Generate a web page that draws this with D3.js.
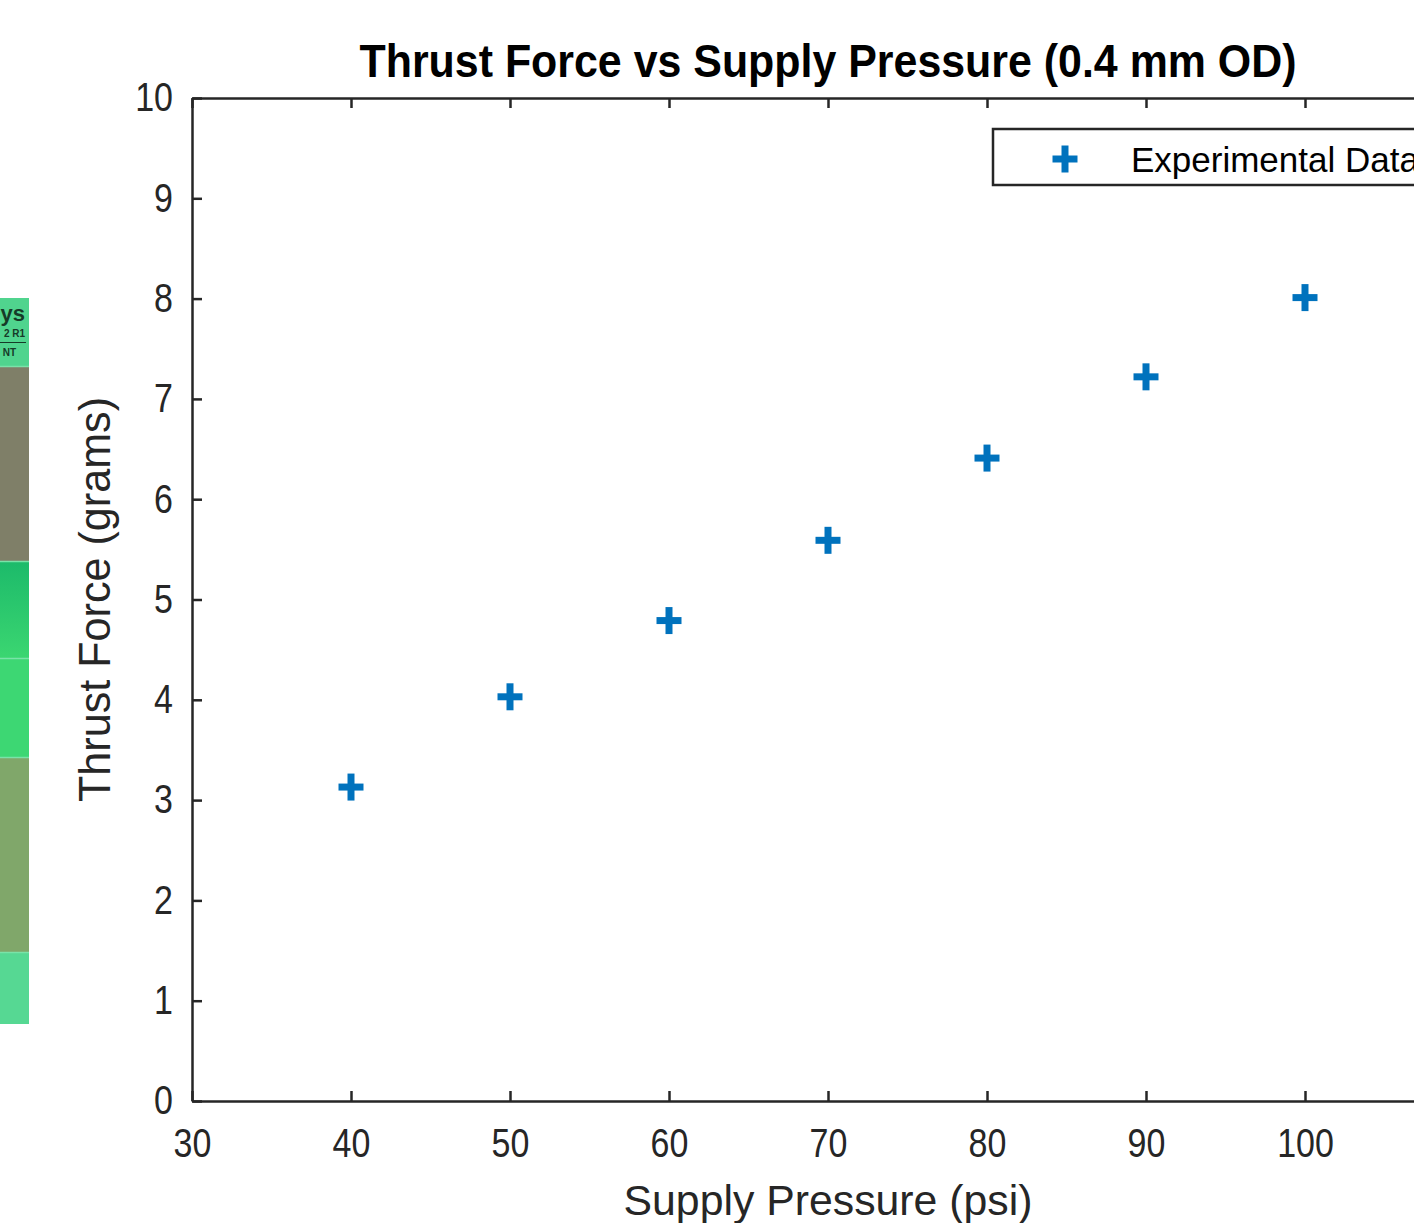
<html>
  <head>
    <meta charset="utf-8">
    <title>Thrust Force vs Supply Pressure</title>
    <style>
      body { margin: 0; background: #fff; }
      svg { display: block; font-family: "Liberation Sans", Arial, sans-serif; }
    </style>
  </head>
  <body>
    <div id="vis"></div>
    <script src="https://d3js.org/d3.v7.min.js"></script>
    <script>
      // data
      const pressure = [40, 50, 60, 70, 80, 90, 100]
      const thrust = [3.13, 4.03, 4.79, 5.59, 6.41, 7.22, 8.01]
      const xTicks = [30, 40, 50, 60, 70, 80, 90, 100]
      const yTicks = [0, 1, 2, 3, 4, 5, 6, 7, 8, 9, 10]
      const titleText = 'Thrust Force vs Supply Pressure (0.4 mm OD)'
      const xLabel = 'Supply Pressure (psi)'
      const yLabel = 'Thrust Force (grams)'
      const legendText = 'Experimental Data'

      const W = 1414, H = 1223
      const AX = '#262626'
      const BLUE = '#0072BD'

      const svg = d3.select('#vis').append('svg')
              .attr('width', W)
              .attr('height', H)

      // leftover strip on the left edge of the screenshot
      const strip = [
        [298, 366, '#50d48e'],
        [366, 561, '#7f7f68'],
        [561, 658, 'url(#g1)'],
        [658, 757, '#3dd773'],
        [757, 952, '#80a76a'],
        [952, 1024, '#56d893']
      ]
      const defs = svg.append('defs')
      const grad = defs.append('linearGradient').attr('id', 'g1')
              .attr('x1', 0).attr('y1', 0).attr('x2', 0).attr('y2', 1)
      grad.append('stop').attr('offset', 0).attr('stop-color', '#1cba6a')
      grad.append('stop').attr('offset', 1).attr('stop-color', '#3bd671')
      const gs = svg.append('g')
      gs.selectAll('rect').data(strip).join('rect')
              .attr('x', 0).attr('width', 29)
              .attr('y', d => d[0]).attr('height', d => d[1] - d[0])
              .attr('fill', d => d[2])
      gs.selectAll('line').data(strip.slice(1)).join('line')
              .attr('x1', 0).attr('x2', 29)
              .attr('y1', d => d[0] + 0.5).attr('y2', d => d[0] + 0.5)
              .attr('stroke', '#79e3a8').attr('stroke-width', 1.5)
      gs.append('text').attr('x', 25).attr('y', 321).attr('text-anchor', 'end')
              .attr('font-size', 22).attr('font-weight', 'bold').attr('fill', '#163a28').text('ys')
      gs.append('text').attr('x', 25).attr('y', 337).attr('text-anchor', 'end')
              .attr('font-size', 10).attr('font-weight', 'bold').attr('fill', '#163a28').text('2 R1')
      gs.append('line').attr('x1', 0).attr('x2', 26).attr('y1', 342.5).attr('y2', 342.5)
              .attr('stroke', '#163a28').attr('stroke-width', 1)
      gs.append('text').attr('x', 16).attr('y', 356).attr('text-anchor', 'end')
              .attr('font-size', 10).attr('font-weight', 'bold').attr('fill', '#163a28').text('NT')

      // scales (x runs to 110, past the right edge of the crop)
      const x = d3.scaleLinear().domain([30, 110]).range([192, 1464])
      const y = d3.scaleLinear().domain([0, 10]).range([1101, 98])

      // squeeze text horizontally like the picture
      function squeeze(sel, k) {
        sel.each(function () {
          const len = this.getComputedTextLength()
          d3.select(this).attr('textLength', len * k).attr('lengthAdjust', 'spacingAndGlyphs')
        })
      }

      function styleAxis(g) {
        g.select('.domain').attr('stroke', AX).attr('stroke-width', 2.5)
        g.selectAll('.tick line').attr('stroke', AX).attr('stroke-width', 2.5)
        g.selectAll('.tick text').attr('fill', AX).attr('font-size', 40)
                .attr('font-family', '"Liberation Sans", Arial, sans-serif')
      }

      // axes
      svg.append('g')
              .attr('transform', `translate(0, ${y(0)})`)
              .call(d3.axisBottom(x).tickValues(xTicks).tickSizeInner(-10).tickSizeOuter(0).tickPadding(28))
              .call(styleAxis)
              .call(g => g.selectAll('.tick text').call(squeeze, 0.85))
      svg.append('g')
              .attr('transform', `translate(${x(30)}, 0)`)
              .call(d3.axisLeft(y).tickValues(yTicks).tickSizeInner(-10).tickSizeOuter(0).tickPadding(19))
              .call(styleAxis)
              .call(g => g.selectAll('.tick text').call(squeeze, 0.85))
      svg.append('g')
              .attr('transform', `translate(0, ${y(10)})`)
              .call(d3.axisTop(x).tickValues(xTicks).tickSizeInner(-10).tickSizeOuter(0).tickFormat(''))
              .call(styleAxis)

      // plus markers
      function drawPlus(g) {
        g.append('line').attr('x1', -12.5).attr('x2', 12.5).attr('y1', 0).attr('y2', 0)
        g.append('line').attr('x1', 0).attr('x2', 0).attr('y1', -13.5).attr('y2', 13.5)
        g.selectAll('line').attr('stroke', BLUE).attr('stroke-width', 7)
      }
      svg.append('g')
              .selectAll('g')
              .data(pressure.map((p, i) => ({ p, t: thrust[i] })))
              .join('g')
              .attr('transform', d => `translate(${x(d.p)},${y(d.t)})`)
              .each(function () { drawPlus(d3.select(this)) })

      // title and labels
      svg.append('text')
              .attr('x', x(70)).attr('y', 77)
              .attr('text-anchor', 'middle')
              .attr('font-size', 46).attr('font-weight', 'bold').attr('fill', '#000')
              .attr('textLength', 937).attr('lengthAdjust', 'spacingAndGlyphs')
              .text(titleText)
      svg.append('text')
              .attr('x', x(70)).attr('y', 1215)
              .attr('text-anchor', 'middle')
              .attr('font-size', 43).attr('fill', AX)
              .attr('textLength', 409).attr('lengthAdjust', 'spacingAndGlyphs')
              .text(xLabel)
      svg.append('text')
              .attr('transform', `translate(110, ${(y(0) + y(10)) / 2}) rotate(-90)`)
              .attr('text-anchor', 'middle')
              .attr('font-size', 44).attr('fill', AX)
              .attr('textLength', 405).attr('lengthAdjust', 'spacingAndGlyphs')
              .text(yLabel)

      // legend (box runs past the right edge of the crop)
      const lg = svg.append('g')
      lg.append('rect')
              .attr('x', 993).attr('y', 129).attr('width', 520).attr('height', 56)
              .attr('fill', '#fff').attr('stroke', AX).attr('stroke-width', 2.5)
      lg.append('g').attr('transform', 'translate(1065,159)').call(drawPlus)
      lg.append('text')
              .attr('x', 1131).attr('y', 172)
              .attr('font-size', 35).attr('fill', '#000')
              .text(legendText)
    </script>
  </body>
</html>
